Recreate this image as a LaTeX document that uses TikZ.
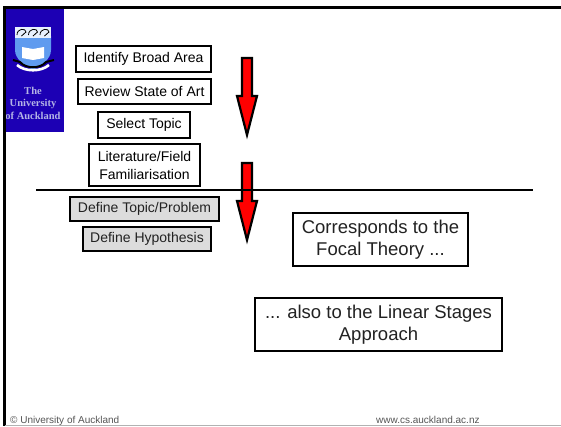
\documentclass[tikz,border=0pt]{standalone}
\usepackage{fontspec}
\setmainfont{Liberation Sans}
\newfontfamily\crestfont{Liberation Serif}
\definecolor{crestblue}{HTML}{1C00B4}
\definecolor{shieldblue}{HTML}{5F9BEF}
\definecolor{cresttext}{HTML}{B4B4E6}
\definecolor{boxgray}{HTML}{DCDCDC}
\definecolor{bodytext}{HTML}{222222}
\definecolor{foottext}{HTML}{555555}
\tikzset{
	stagebox/.style={draw=black, line width=1.2pt, fill=white, align=center, inner sep=0pt, text=black, font=\fontsize{14}{18}\selectfont},
	greybox/.style={stagebox, fill=boxgray, text=bodytext},
	notebox/.style={stagebox, text=bodytext, font=\fontsize{18.5}{22}\selectfont},
	footnote/.style={text=foottext, inner sep=0pt, font=\fontsize{10}{12}\selectfont},
	cresttitle/.style={text=cresttext, inner sep=0pt, font=\crestfont\bfseries\fontsize{10.5}{12}\selectfont},
	downarrow/.style={fill=red, draw=black, line width=2.2pt, line join=miter},
}
\begin{document}
\begin{tikzpicture}[x=1pt,y=-1pt]
	\useasboundingbox (0,0) rectangle (561,426);
	\fill[white] (0,0) rectangle (561,426);
	% crest panel
	\fill[crestblue] (6,6) rectangle (64,132);
	\fill[shieldblue] (15,36) -- (51,36) -- (51,50) .. controls (51,60) and (40,66) .. (33,70) .. controls (26,66) and (15,60) .. (15,50) -- cycle;
	\fill[white!85!shieldblue] (15,27) rectangle (51,38);
	\foreach \xbird in {21.5,33,44.5}
		\draw[black, line width=0.8pt] (\xbird-4.5,35) .. controls (\xbird-4.5,28) and (\xbird+4.5,28) .. (\xbird+4.5,32) -- (\xbird,36);
	\fill[white] (22,47) -- (33,49) -- (44,47) -- (44,58) -- (33,60) -- (22,58) -- cycle;
	\draw[black, line width=2pt] (13,60) -- (20,62) .. controls (26,69) and (40,69) .. (46,62) -- (54,60);
	\draw[white, line width=2.6pt] (17,65) .. controls (25,72) and (41,72) .. (49,65);
	\node[cresttitle] (crestthe) at (33,91) {The};
	\node[cresttitle] (crestuni) at (33,103.5) {University};
	\node[cresttitle] (crestauck) at (33,116) {of Auckland};
	% down arrows
	\foreach \ytop in {58,163}
		\draw[downarrow] (242,\ytop) -- (252,\ytop) -- (252,\ytop+38) -- (257,\ytop+38) -- (247,\ytop+77) -- (237,\ytop+38) -- (242,\ytop+38) -- cycle;
	% stages above the line
	\node[stagebox, minimum width=135pt, minimum height=26pt] (identify) at (143.5,59) {Identify Broad Area};
	\node[stagebox, minimum width=133pt, minimum height=25pt] (review) at (144.5,91.5) {Review State of Art};
	\node[stagebox, minimum width=92pt, minimum height=26pt] (select) at (144,125) {Select Topic};
	\node[stagebox, minimum width=111pt, minimum height=42pt] (literature) at (144.5,165) {Literature/Field\\Familiarisation};
	% stages below the line
	\node[greybox, minimum width=149pt, minimum height=24pt] (topic) at (144.5,209) {Define Topic/Problem};
	\node[greybox, minimum width=128pt, minimum height=24pt] (hypothesis) at (147,239) {Define Hypothesis};
	% notes
	\node[notebox, minimum width=175pt, minimum height=53pt] (focal) at (380.5,239.5) {Corresponds to the\\Focal Theory ...};
	\node[notebox, minimum width=247pt, minimum height=53pt] (linear) at (378.5,324.5) {... also to the Linear Stages\\Approach};
	\draw[line width=1.5pt] (36,190) -- (533,190);
	% slide frame
	\draw[line width=3pt] (4.5,7) -- (4.5,426);
	\draw[line width=2.5pt] (3,7.5) -- (561,7.5);
	\draw[gray!60, line width=0.8pt] (5,425.5) -- (561,425.5);
	\node[footnote, anchor=base west] (copyright) at (10,423) {© University of Auckland};
	\node[footnote, anchor=base west] (website) at (376,423) {www.cs.auckland.ac.nz};
\end{tikzpicture}
\end{document}
